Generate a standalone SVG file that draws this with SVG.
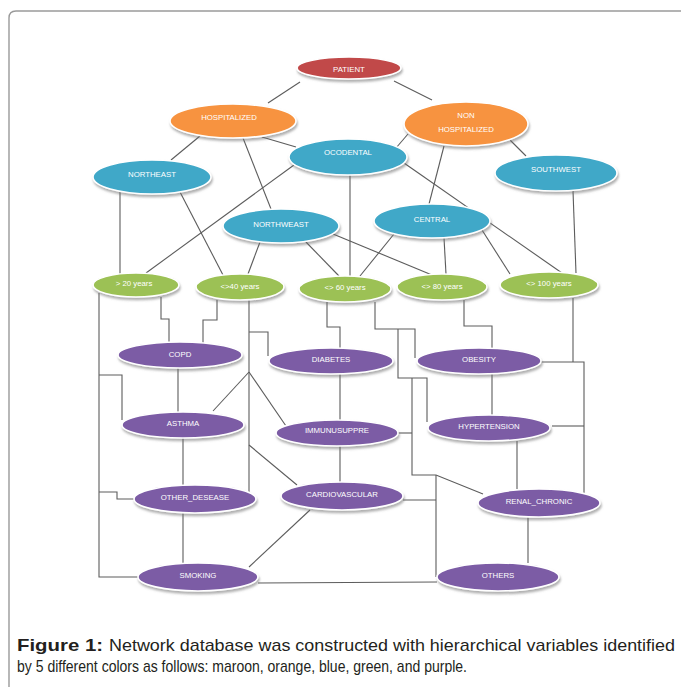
<svg xmlns="http://www.w3.org/2000/svg" width="681" height="687" viewBox="0 0 681 687">
<defs>
<filter id="sh" x="-20%" y="-30%" width="140%" height="180%">
<feDropShadow dx="1" dy="2.5" stdDeviation="1.3" flood-color="#6e6e6e" flood-opacity="0.55"/>
</filter>
</defs>
<style>
.frame{fill:none;stroke:#9a9a9a;stroke-width:1.4}
.c line,.c polyline{fill:none;stroke:#5c5c5c;stroke-width:1.1}
.n ellipse{stroke:#ffffff;stroke-width:1.6;filter:url(#sh)}
.maroon ellipse{fill:#c14a4a}
.orange ellipse{fill:#f7933f}
.blue ellipse{fill:#40a8c8}
.green ellipse{fill:#9cc154}
.purple ellipse{fill:#7b5ba5}
.n text{fill:#ffffff;font-family:"Liberation Sans",Arial,sans-serif;font-size:7.8px;text-anchor:middle}
.cap{font-family:"Liberation Sans",Arial,sans-serif;font-size:17px;fill:#231f20}
</style>
<rect width="681" height="687" fill="#ffffff"/>
<path class="frame" d="M9,700 V18 Q9,11 16,11 H690"/>

<g id="connectors" class="c">
<line x1="300" y1="82" x2="268" y2="103"/>
<line x1="394" y1="81" x2="432" y2="100"/>
<line x1="200" y1="136" x2="171" y2="160"/>
<line x1="243" y1="138" x2="271" y2="209"/>
<line x1="262" y1="137" x2="296" y2="147"/>
<line x1="408" y1="134" x2="396" y2="148"/>
<line x1="510" y1="140" x2="526" y2="156"/>
<line x1="444" y1="146" x2="429" y2="204"/>
<line x1="294" y1="165" x2="146" y2="273"/>
<line x1="350" y1="175" x2="350" y2="276"/>
<line x1="404" y1="163" x2="562" y2="273"/>
<line x1="120" y1="192" x2="120" y2="274"/>
<line x1="180" y1="192" x2="223" y2="275"/>
<line x1="573" y1="191" x2="576" y2="273"/>
<line x1="260" y1="242" x2="248" y2="274"/>
<line x1="305" y1="241" x2="339" y2="276"/>
<line x1="333" y1="234" x2="432" y2="275"/>
<line x1="394" y1="234" x2="360" y2="276"/>
<line x1="444" y1="238" x2="446" y2="274"/>
<line x1="482" y1="230" x2="510" y2="274"/>
<polyline points="161,297 161,319 169,319 169,342"/>
<polyline points="217,300 217,320 203,320 203,343"/>
<polyline points="99,293 99,577 138,577"/>
<polyline points="99,375 122,375 122,420"/>
<polyline points="99,492 117,492 117,499 134,499"/>
<line x1="178" y1="368" x2="178" y2="412"/>
<line x1="183" y1="438" x2="183" y2="485"/>
<line x1="183" y1="513" x2="183" y2="563"/>
<line x1="249" y1="300" x2="249" y2="493"/>
<polyline points="249,332 268,332 268,356"/>
<line x1="249" y1="372" x2="213" y2="411"/>
<line x1="249" y1="372" x2="286" y2="426"/>
<line x1="249" y1="445" x2="297" y2="485"/>
<polyline points="327,302 327,327 340,327 340,348"/>
<polyline points="375,302 375,329 415,329 415,358"/>
<polyline points="398,329 398,378 427,378 427,422"/>
<polyline points="412,378 412,475 436,475 483,494"/>
<polyline points="464,300 464,326 492,326 492,348"/>
<line x1="573" y1="298" x2="573" y2="362"/>
<polyline points="541,362 584,362 584,493"/>
<line x1="552" y1="426" x2="584" y2="426"/>
<line x1="492" y1="374" x2="492" y2="415"/>
<line x1="340" y1="374" x2="340" y2="420"/>
<line x1="340" y1="446" x2="340" y2="482"/>
<line x1="517" y1="441" x2="517" y2="489"/>
<line x1="528" y1="517" x2="528" y2="563"/>
<line x1="258" y1="583" x2="437" y2="582"/>
<line x1="249" y1="567" x2="310" y2="510"/>
<line x1="398" y1="433" x2="412" y2="433"/>
<line x1="436" y1="475" x2="436" y2="577"/>
<line x1="403" y1="500" x2="436" y2="500"/>
</g>

<g id="patient" class="n maroon"><ellipse cx="349" cy="68" rx="52" ry="11"/><text x="349" y="72">PATIENT</text></g>
<g id="hospitalized" class="n orange"><ellipse cx="233" cy="121" rx="63" ry="17"/><text x="229" y="120">HOSPITALIZED</text></g>
<g id="non_hospitalized" class="n orange"><ellipse cx="466" cy="124" rx="62" ry="22"/><text x="466" y="118">NON</text><text x="466" y="132">HOSPITALIZED</text></g>
<g id="ocodental" class="n blue"><ellipse cx="348" cy="157" rx="59" ry="18"/><text x="348" y="155">OCODENTAL</text></g>
<g id="northeast" class="n blue"><ellipse cx="152" cy="177" rx="59" ry="17"/><text x="152" y="177">NORTHEAST</text></g>
<g id="southwest" class="n blue"><ellipse cx="556" cy="173" rx="61" ry="18"/><text x="556" y="172">SOUTHWEST</text></g>
<g id="northweast" class="n blue"><ellipse cx="281" cy="226" rx="58" ry="17"/><text x="281" y="227">NORTHWEAST</text></g>
<g id="central" class="n blue"><ellipse cx="432" cy="221" rx="58" ry="17"/><text x="432" y="222">CENTRAL</text></g>
<g id="age20" class="n green"><ellipse cx="136" cy="285" rx="43" ry="12"/><text x="134" y="286">&gt; 20 years</text></g>
<g id="age40" class="n green"><ellipse cx="240" cy="287" rx="44" ry="13"/><text x="240" y="289">&lt;&gt;40 years</text></g>
<g id="age60" class="n green"><ellipse cx="345" cy="289" rx="46" ry="13"/><text x="345" y="290">&lt;&gt; 60 years</text></g>
<g id="age80" class="n green"><ellipse cx="442" cy="287" rx="45" ry="13"/><text x="442" y="289">&lt;&gt; 80 years</text></g>
<g id="age100" class="n green"><ellipse cx="549" cy="285" rx="49" ry="13"/><text x="549" y="286">&lt;&gt; 100 years</text></g>
<g id="copd" class="n purple"><ellipse cx="180" cy="355" rx="62" ry="13"/><text x="180" y="357">COPD</text></g>
<g id="diabetes" class="n purple"><ellipse cx="331" cy="361" rx="62" ry="13"/><text x="331" y="362">DIABETES</text></g>
<g id="obesity" class="n purple"><ellipse cx="479" cy="361" rx="62" ry="13"/><text x="479" y="362">OBESITY</text></g>
<g id="asthma" class="n purple"><ellipse cx="183" cy="425" rx="61" ry="13"/><text x="183" y="426">ASTHMA</text></g>
<g id="immunusuppre" class="n purple"><ellipse cx="337" cy="433" rx="61" ry="13"/><text x="337" y="433">IMMUNUSUPPRE</text></g>
<g id="hypertension" class="n purple"><ellipse cx="489" cy="428" rx="61" ry="13"/><text x="489" y="429">HYPERTENSION</text></g>
<g id="other_desease" class="n purple"><ellipse cx="195" cy="499" rx="61" ry="14"/><text x="195" y="500">OTHER_DESEASE</text></g>
<g id="cardiovascular" class="n purple"><ellipse cx="342" cy="496" rx="61" ry="14"/><text x="342" y="497">CARDIOVASCULAR</text></g>
<g id="renal_chronic" class="n purple"><ellipse cx="539" cy="503" rx="61" ry="14"/><text x="539" y="504">RENAL_CHRONIC</text></g>
<g id="smoking" class="n purple"><ellipse cx="198" cy="577" rx="60" ry="14"/><text x="198" y="578">SMOKING</text></g>
<g id="others" class="n purple"><ellipse cx="498" cy="577" rx="61" ry="14"/><text x="498" y="578">OTHERS</text></g>

<g id="caption">
<text class="cap" x="17" y="651" font-weight="bold" textLength="86" lengthAdjust="spacingAndGlyphs" font-size="18">Figure 1:</text>
<text class="cap" x="109" y="651" textLength="566" lengthAdjust="spacingAndGlyphs">Network database was constructed with hierarchical variables identified</text>
<text class="cap" x="17" y="672" textLength="450" lengthAdjust="spacingAndGlyphs">by 5 different colors as follows: maroon, orange, blue, green, and purple.</text>
</g>
</svg>
